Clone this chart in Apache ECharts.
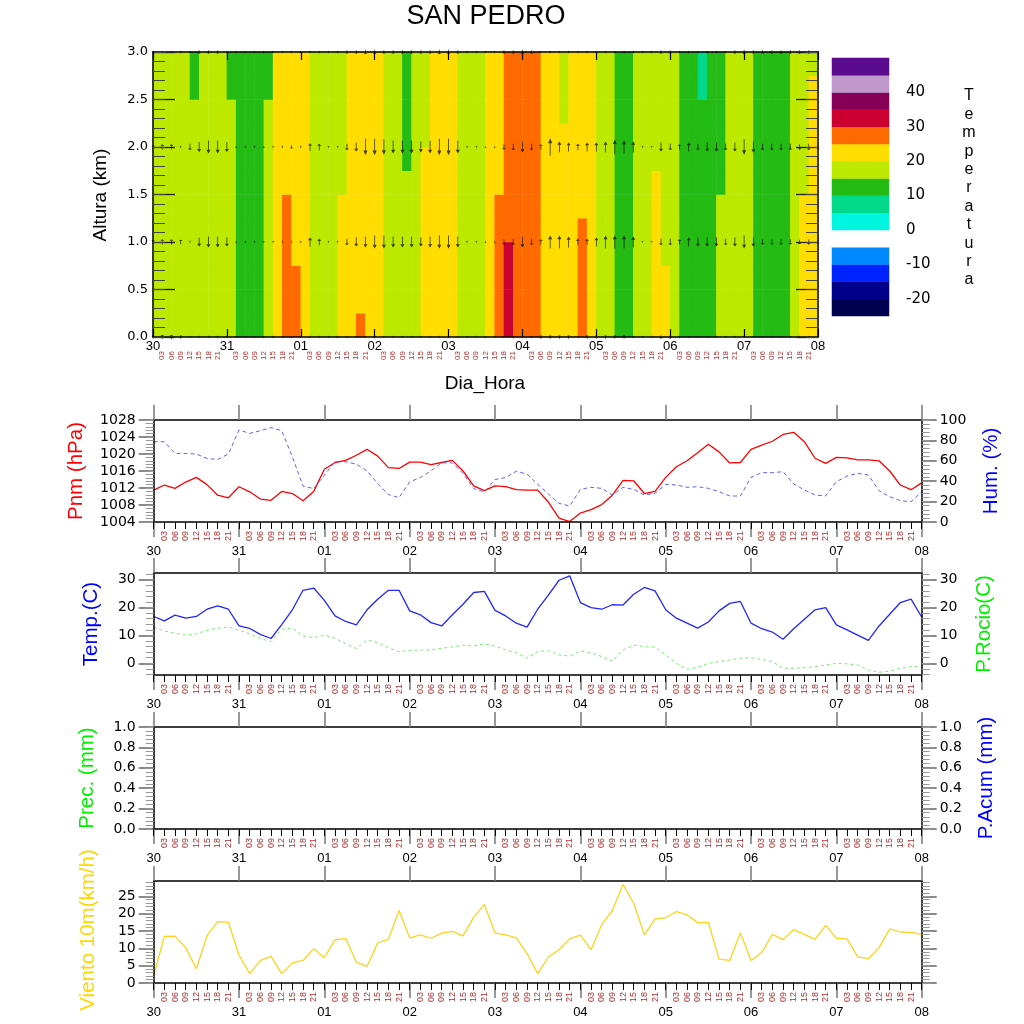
<!DOCTYPE html>
<html>
<head>
<meta charset="utf-8">
<script src="https://cdn.jsdelivr.net/npm/echarts@6/dist/echarts.min.js"></script>
<style>
html, body { margin: 0; padding: 0; background: #fff; }
#chart { width: 1024px; height: 1024px; }
</style>
</head>
<body>
<div id="chart"></div>
<script>
// ---- tick labels ----
var dayLabels = ['30', '31', '01', '02', '03', '04', '05', '06', '07', '08'];
var hourLabels = ['', '03', '06', '09', '12', '15', '18', '21'];

// ---- surface series, every 3 h from 30/00 to 08/00 (73 values) ----
var pressure = [1011.5,1012.7,1011.9,1013.4,1014.5,1012.8,1010.3,1009.7,1012.3,1011.1,
  1009.4,1009.1,1011.2,1010.7,1009.0,1011.2,1016.4,1018.0,1018.5,1019.7,
  1021.1,1019.5,1016.8,1016.6,1018.1,1018.1,1017.5,1018.0,1018.5,1016.0,
  1012.5,1011.4,1012.5,1012.3,1011.6,1011.5,1011.5,1008.7,1004.9,1004.1,
  1006.1,1006.9,1008.1,1010.3,1013.8,1013.7,1010.7,1011.2,1014.5,1017.0,
  1018.4,1020.3,1022.3,1020.5,1017.9,1018.0,1021.1,1022.1,1023.0,1024.6,
  1025.1,1022.9,1019.0,1017.8,1019.2,1019.1,1018.6,1018.6,1018.4,1016.0,
  1012.7,1011.6,1013.2];
var humidity = [78.7,78.7,67.2,67.2,66.6,62.3,61.3,66.6,90.2,86.9,
  89.5,92.5,89.5,63.9,35.1,32.8,45.9,59.0,59.0,56.7,
  50.2,37.7,26.9,23.9,39.3,43.6,50.2,58.0,58.0,47.5,
  32.8,29.5,41.6,43.6,49.8,46.9,37.0,27.5,18.3,15.7,
  32.0,34.0,33.0,26.5,34.0,32.0,26.5,28.1,36.9,36.3,
  34.0,34.6,33.0,29.7,25.5,25.5,43.8,48.4,48.4,49.3,
  37.3,31.4,26.5,25.5,39.5,45.1,47.7,46.1,30.7,24.8,
  20.9,19.9,29.7];
var temperature = [16.8,15.2,17.3,16.2,16.8,19.4,20.6,19.4,13.4,12.5,
  10.4,8.9,13.9,19.2,26.2,27.0,22.6,17.0,15.0,13.8,
  19.2,23.0,26.2,26.2,18.8,17.4,14.6,13.4,17.4,21.2,
  25.4,25.8,19.0,17.0,14.4,13.0,19.4,24.5,29.8,31.4,
  21.8,20.0,19.4,21.0,20.9,24.8,27.2,26.0,19.2,16.2,
  14.4,12.6,14.8,18.8,21.5,22.2,14.4,12.4,11.2,8.6,
  12.4,15.8,19.2,20.0,13.8,12.0,10.1,8.2,13.4,17.6,
  21.8,23.0,16.6];
var dewPoint = [13.0,11.6,10.8,10.1,10.6,11.8,12.6,13.0,11.8,10.6,
  8.9,7.8,12.2,12.6,9.8,9.2,10.1,9.0,7.0,5.3,
  8.4,7.4,5.6,4.2,4.6,4.8,4.8,5.4,5.9,6.5,
  6.2,7.0,6.2,4.8,3.8,1.8,4.3,4.5,3.0,2.6,
  4.4,3.8,2.4,0.8,4.8,6.5,6.0,5.8,3.0,0.0,
  -2.2,-1.4,0.0,0.6,1.2,1.8,2.0,1.4,0.6,-1.8,
  -1.8,-1.6,-1.2,-0.6,0.0,-0.2,-0.6,-2.4,-3.2,-2.8,
  -1.8,-1.2,-1.0];
var precip = [0,0,0,0,0,0,0,0,0,0,0,0,0,0,0,0,0,0,0,0,0,0,0,0,0,0,0,0,0,0,0,0,0,0,0,0,0,
  0,0,0,0,0,0,0,0,0,0,0,0,0,0,0,0,0,0,0,0,0,0,0,0,0,0,0,0,0,0,0,0,0,0,0,0];
var precipAcum = [0,0,0,0,0,0,0,0,0,0,0,0,0,0,0,0,0,0,0,0,0,0,0,0,0,0,0,0,0,0,0,0,0,0,0,0,0,
  0,0,0,0,0,0,0,0,0,0,0,0,0,0,0,0,0,0,0,0,0,0,0,0,0,0,0,0,0,0,0,0,0,0,0,0];
var wind10m = [2.2,13.4,13.5,10.2,4.1,13.7,17.7,17.5,8.0,2.7,
  6.5,7.7,2.7,5.8,6.5,9.9,7.3,12.5,12.8,6.0,
  4.8,11.6,12.6,20.9,13.0,13.9,12.9,14.4,14.9,13.6,
  19.0,22.6,14.4,13.9,13.0,8.5,2.7,7.5,9.6,12.8,
  13.8,9.6,16.8,20.9,28.4,23.0,13.9,18.5,18.8,20.6,
  19.7,17.4,17.5,6.9,6.5,14.5,6.5,8.8,14.0,12.5,
  15.4,14.0,12.6,16.6,12.9,12.7,7.5,7.0,10.2,15.6,
  14.7,14.6,14.0];

// ---- temperature aloft (C), 72 x 3h cells, rows of 0.25 km from the ground up ----
var tempRow0 = [17,17,17,17,17,17,17,17,17,12,12,12,17,22,27,27,22,17,17,17,22,22,27,22,22,17,17,17,17,22,22,22,22,17,17,17,22,27,32,27,27,27,22,22,22,22,27,22,17,17,12,12,17,17,22,22,17,12,12,12,12,17,17,17,17,12,12,12,12,17,22,22];
var tempRow1 = [17,17,17,17,17,17,17,17,17,12,12,12,17,22,27,27,22,17,17,17,22,22,22,22,22,17,17,17,17,22,22,22,22,17,17,17,22,27,32,27,27,27,22,22,22,22,27,22,17,17,12,12,17,17,22,22,17,12,12,12,12,17,17,17,17,12,12,12,12,17,22,22];
var tempRow2 = [17,17,17,17,17,17,17,17,17,12,12,12,17,22,27,27,22,17,17,17,22,22,22,22,22,17,17,17,17,22,22,22,22,17,17,17,22,27,32,27,27,27,22,22,22,22,27,22,17,17,12,12,17,17,22,22,17,12,12,12,12,17,17,17,17,12,12,12,12,17,22,22];
var tempRow3 = [17,17,17,17,17,17,17,17,17,12,12,12,17,22,27,22,22,17,17,17,22,22,22,22,22,17,17,17,17,22,22,22,22,17,17,17,22,27,32,27,27,27,22,22,22,22,27,22,17,17,12,12,17,17,22,17,17,12,12,12,12,17,17,17,17,12,12,12,12,17,22,22];
var tempRow4 = [17,17,17,17,17,17,17,17,17,12,12,12,17,22,27,22,22,17,17,17,22,22,22,22,22,17,17,17,17,22,22,22,22,17,17,17,22,27,27,27,27,27,22,22,22,22,27,22,17,17,12,12,17,17,22,17,17,12,12,12,12,17,17,17,17,12,12,12,12,17,22,22];
var tempRow5 = [17,17,17,17,17,17,17,17,17,12,12,12,17,22,27,22,22,17,17,17,22,22,22,22,22,17,17,17,17,22,22,22,22,17,17,17,22,27,27,27,27,27,22,22,22,22,22,22,17,17,12,12,17,17,22,17,17,12,12,12,12,17,17,17,17,12,12,12,12,17,22,22];
var tempRow6 = [17,17,17,17,17,17,17,17,17,12,12,12,17,22,22,22,22,17,17,17,17,22,22,22,22,17,17,17,17,22,22,22,22,17,17,17,22,22,27,27,27,27,22,22,22,22,22,22,17,17,12,12,17,17,22,17,17,12,12,12,12,12,17,17,17,12,12,12,12,17,17,22];
var tempRow7 = [17,17,17,17,17,17,17,17,17,12,12,12,17,22,22,22,22,17,17,17,17,22,22,22,22,17,17,12,17,22,22,22,22,17,17,17,22,22,27,27,27,27,22,22,22,22,22,22,17,17,12,12,17,17,17,17,17,12,12,12,12,12,17,17,17,12,12,12,12,17,17,22];
var tempRow8 = [17,17,17,17,17,17,17,17,17,12,12,12,17,22,22,22,22,17,17,17,17,22,22,22,22,17,17,12,17,17,22,22,22,17,17,17,22,22,27,27,27,27,22,22,22,22,22,22,17,17,12,12,17,17,17,17,17,12,12,12,12,12,17,17,17,12,12,12,12,17,17,22];
var tempRow9 = [17,17,17,17,17,17,17,17,17,12,12,12,17,22,22,22,22,17,17,17,17,22,22,22,22,17,17,12,17,17,22,22,22,17,17,17,22,22,27,27,27,27,22,22,17,22,22,22,17,17,12,12,17,17,17,17,17,12,12,12,12,12,17,17,17,12,12,12,12,17,17,22];
var tempRow10 = [17,17,17,17,12,17,17,17,12,12,12,12,12,22,22,22,22,17,17,17,17,22,22,22,22,17,17,12,17,17,22,22,22,17,17,17,22,22,27,27,27,27,22,22,17,22,22,22,17,17,12,12,17,17,17,17,17,12,12,7,12,12,17,17,17,12,12,12,12,17,17,22];
var tempRow11 = [17,17,17,17,12,17,17,17,12,12,12,12,12,22,22,22,22,17,17,17,17,22,22,22,22,17,17,12,17,17,22,22,22,17,17,17,22,22,27,27,27,27,22,22,17,22,22,22,17,17,12,12,17,17,17,17,17,12,12,7,12,12,17,17,17,12,12,12,12,17,17,17];
var tempAloft = [tempRow0, tempRow1, tempRow2, tempRow3, tempRow4, tempRow5,
  tempRow6, tempRow7, tempRow8, tempRow9, tempRow10, tempRow11];

// ---- wind aloft: signed north component (+ up, - down) at 0, 1, 2, 3 km ----
var windLevels = [0, 1, 2, 3];
var windV0 = [3,4,4,3,0.5,0.5,0.5,0.5,0.5,0.5, 0.5,0.5,0.5,0.5,0.5,0.5,0.5,0.5,0.5,0.5,
  0.5,0.5,0.5,0.5,0.5,0.5,0.5,0.5,0.5,0.5, 0.5,0.5,0.5,0.5,0.5,0.5,0.5,0.5,0.5,0.5,
  0.5,0.5,3,3,3,3,2,3,3,3, 3,3,2,0.5,0.5,-3,-3,0.5,0.5,0.5,
  0.5,0.5,0.5,0.5,0.5,0.5,0.5,0.5,0.5,0.5, 0.5,0.5,0.5];
var windV1 = [4,5,5,4,0.5,-8,-10,-10,-8,-1.5, 0.5,0.5,0.5,0.5,0.5,0.5,1.5,8,6,0.5,
  0.5,-6,-8,-10,-12,-12,-10,-10,-10,-8, -10,-12,-12,-10,0.5,0.5,-1,-1,-5,-6,
  -10,-6,5,12,12,10,6,6,8,12, 12,12,10,0.5,0.5,-6,-6,5,8,-8,
  -8,-8,-6,-8,-12,-8,-5,-5,-5,-5, -4,-5,-3];
var windV2 = [3,5,5,0.5,-6,-9,-12,-12,-9,-2, 0.5,2,-2,0.5,0.5,-3,0.5,7,6,0.5,
  0.5,-6,-8,-15,-15,-14,-12,-12,-12,-10, -12,-15,-15,-12,0.5,0.5,-1,-1,-5,-6,
  -10,-6,5,16,10,8,6,8,8,10, 13,12,10,0.5,0.5,-8,-6,5,8,-6,
  -8,-8,-6,-8,-14,-10,-6,-6,-6,-6, -5,-6,-3];
var windV3 = [0.5,0.5,0.5,0.5,0.5,-3,-3,-3,-2,0.5, 0.5,0.5,0.5,0.5,0.5,0.5,0.5,0.5,0.5,0.5,
  0.5,-3,-3,-4,-4,-3,-3,-3,-3,-3, -3,-4,-4,-3,0.5,0.5,0.5,0.5,-3,-3,
  -4,-3,0.5,0.5,0.5,0.5,0.5,0.5,0.5,0.5, 0.5,0.5,0.5,0.5,0.5,-3,-3,0.5,0.5,-2,
  -2,-2,-2,-3,-4,-3,-3,-3,-3,-3, -3,-3,0.5];
var windAloft = [windV0, windV1, windV2, windV3];

// ---- colour bar levels (C) ----
var levelMids = [-22.5,-17.5,-12.5,-7.5,-2.5,2.5,7.5,12.5,17.5,22.5,27.5,32.5,37.5,42.5,47.5];
var levelLabels = [-20, -10, 0, 10, 20, 30, 40];

var FONT_TXT = 'Liberation Sans';
var FONT_NUM = 'DejaVu Sans';
var ARROW = 'path://M5,0 L10,7 L6,7 L6,24 L4,24 L4,7 L0,7 Z';

function steps(a, b, d) {
  var out = [];
  for (var i = 0; a + i * d <= b + 1e-9; i++) out.push(+(a + i * d).toFixed(4));
  return out;
}
var dayTicks = steps(0, 72, 8);
var hourTicks = steps(0, 72, 1).filter(function (v) { return v % 8 !== 0; });

var xAxes = [], yAxes = [], grids = [];
function fixAxis(o) {
  o.z = 5;
  o.splitLine = { show: false };
  o.axisLine = o.axisLine || {};
  o.axisLine.onZero = false;
  if (o.axisTick && o.axisTick.inside === undefined) o.axisTick.inside = false;
  return o;
}
function addX(o) { xAxes.push(fixAxis(o)); return xAxes.length - 1; }
function addY(o) { yAxes.push(fixAxis(o)); return yAxes.length - 1; }
function addGrid(r) {
  grids.push({ left: r[0], top: r[1], width: r[2], height: r[3], containLabel: false, outerBoundsMode: 'none' });
  return grids.length - 1;
}

// ---- top panel: heatmap + arrows ----
var gHeat = addGrid([153, 52, 665, 285]);
var gTop = addGrid([153, 52, 665, 285]);
var gBar = addGrid([832, 58, 57, 258]);

var heatX = addX({ gridIndex: gHeat, type: 'category', show: false, data: steps(0, 71, 1).map(String) });
var heatY = addY({ gridIndex: gHeat, type: 'category', show: false, data: steps(0, 11, 1).map(String) });

var topX = addX({ gridIndex: gTop, type: 'value', min: 0, max: 72, position: 'bottom',
  axisLine: { lineStyle: { color: '#000', width: 1.5 } },
  axisTick: { customValues: dayTicks, inside: true, length: 8, lineStyle: { color: '#000', width: 1.2 } },
  axisLabel: { customValues: dayTicks, margin: 3, fontSize: 13, fontFamily: FONT_TXT, color: '#000',
    formatter: function (v) { return dayLabels[v / 8]; } } });
addX({ gridIndex: gTop, type: 'value', min: 0, max: 72, position: 'bottom',
  axisLine: { show: false }, axisTick: { show: false },
  axisLabel: { customValues: hourTicks, rotate: 90, margin: 14, fontSize: 8, fontFamily: FONT_TXT, color: '#b03030',
    formatter: function (v) { return hourLabels[v % 8]; } } });
addX({ gridIndex: gTop, type: 'value', min: 0, max: 72, position: 'top',
  axisLine: { lineStyle: { color: '#000', width: 1.5 } },
  axisTick: { customValues: dayTicks, inside: true, length: 8, lineStyle: { color: '#000', width: 1.2 } },
  axisLabel: { show: false } });
var topY = addY({ gridIndex: gTop, type: 'value', min: 0, max: 3, position: 'left',
  axisLine: { lineStyle: { color: '#000', width: 1.5 } },
  axisTick: { customValues: steps(0, 3, 0.5), inside: true, length: 22, lineStyle: { color: '#222', width: 1.3 } },
  axisLabel: { customValues: steps(0, 3, 0.5), margin: 5, fontSize: 13, fontFamily: FONT_NUM, color: '#000',
    formatter: function (v) { return v.toFixed(1); } } });
addY({ gridIndex: gTop, type: 'value', min: 0, max: 3, position: 'left', axisLine: { show: false },
  axisTick: { customValues: steps(0, 3, 0.1), inside: true, length: 12, lineStyle: { color: '#444' } },
  axisLabel: { show: false } });
addY({ gridIndex: gTop, type: 'value', min: 0, max: 3, position: 'right',
  axisLine: { lineStyle: { color: '#000', width: 1.5 } },
  axisTick: { customValues: steps(0, 3, 0.5), inside: true, length: 22, lineStyle: { color: '#222', width: 1.3 } },
  axisLabel: { show: false } });
addY({ gridIndex: gTop, type: 'value', min: 0, max: 3, position: 'right', axisLine: { show: false },
  axisTick: { customValues: steps(0, 3, 0.1), inside: true, length: 12, lineStyle: { color: '#444' } },
  axisLabel: { show: false } });

// colour bar
var barX = addX({ gridIndex: gBar, type: 'category', show: false, data: ['c'] });
var barY = addY({ gridIndex: gBar, type: 'category', show: false, data: levelMids.map(String) });
addY({ gridIndex: gBar, type: 'value', min: -25, max: 50, position: 'right',
  axisLine: { show: false }, axisTick: { show: false },
  axisLabel: { customValues: levelLabels, margin: 17, fontSize: 15, fontFamily: FONT_NUM, color: '#000' } });

// ---- lower panels ----
function panel(top, left, right) {
  var g = addGrid([153.7, top, 768, 102]);
  var x = addX({ gridIndex: g, type: 'value', min: 0, max: 72, position: 'bottom',
    axisLine: { lineStyle: { color: '#000', width: 1.5 } },
    axisTick: { customValues: dayTicks, length: 15, lineStyle: { color: '#777', width: 1.5 } },
    axisLabel: { customValues: dayTicks, margin: 23, fontSize: 13, fontFamily: FONT_TXT, color: '#000',
      formatter: function (v) { return dayLabels[v / 8]; } } });
  addX({ gridIndex: g, type: 'value', min: 0, max: 72, position: 'bottom', axisLine: { show: false },
    axisTick: { customValues: steps(0, 72, 1), length: 7, lineStyle: { color: '#000' } },
    axisLabel: { customValues: hourTicks, rotate: 90, margin: 9, fontSize: 9, fontFamily: FONT_TXT, color: '#b03030',
      formatter: function (v) { return hourLabels[v % 8]; } } });
  addX({ gridIndex: g, type: 'value', min: 0, max: 72, position: 'top',
    axisLine: { lineStyle: { color: '#000', width: 1.5 } },
    axisTick: { customValues: dayTicks, length: 15, lineStyle: { color: '#777', width: 1.5 } },
    axisLabel: { show: false } });
  var ys = [];
  [['left', left], ['right', right]].forEach(function (s) {
    var a = s[1];
    ys.push(addY({ gridIndex: g, type: 'value', position: s[0], min: a.min, max: a.max,
      axisLine: { lineStyle: { color: '#000', width: 1.5 } },
      axisTick: { customValues: a.major, length: 15, lineStyle: { color: '#666', width: 1.5 } },
      axisLabel: { show: a.labels, customValues: a.major, margin: 18, fontSize: 14, fontFamily: FONT_NUM, color: '#000',
        formatter: a.fmt || function (v) { return String(v); } } }));
    addY({ gridIndex: g, type: 'value', position: s[0], min: a.min, max: a.max, axisLine: { show: false },
      axisTick: { customValues: a.minor, length: 8, lineStyle: { color: '#999' } },
      axisLabel: { show: false } });
  });
  return { x: x, yl: ys[0], yr: ys[1] };
}

var pPres = panel(420,
  { min: 1004, max: 1028, major: steps(1004, 1028, 4), minor: steps(1004, 1028, 0.8), labels: true },
  { min: 0, max: 100, major: steps(0, 100, 20), minor: steps(0, 100, 4), labels: true });
var pTemp = panel(573,
  { min: -4.2, max: 32.4, major: [0, 10, 20, 30], minor: steps(-4, 32, 2), labels: true },
  { min: -4.2, max: 32.4, major: [0, 10, 20, 30], minor: steps(-4, 32, 2), labels: true });
var fmt1 = function (v) { return v.toFixed(1); };
var pPrec = panel(727,
  { min: 0, max: 1, major: steps(0, 1, 0.2), minor: steps(0, 1, 0.04), labels: true, fmt: fmt1 },
  { min: 0, max: 1, major: steps(0, 1, 0.2), minor: steps(0, 1, 0.04), labels: true, fmt: fmt1 });
var pWind = panel(881,
  { min: 0, max: 29.4, major: steps(0, 25, 5), minor: steps(0, 29, 1), labels: true },
  { min: 0, max: 29.4, major: steps(0, 25, 5), minor: steps(0, 29, 1), labels: false });

// ---- series data ----
var heatData = [];
tempAloft.forEach(function (row, r) {
  row.forEach(function (v, c) { heatData.push([c, r, v]); });
});
var arrowData = [];
windLevels.forEach(function (lev, k) {
  windAloft[k].forEach(function (v, i) { arrowData.push([i, lev, v]); });
});
function pairs(arr) { return arr.map(function (v, i) { return [i, v]; }); }

function lineSeries(p, yIdx, data, color, width, dash) {
  return { type: 'line', xAxisIndex: p.x, yAxisIndex: yIdx, data: pairs(data), symbol: 'none',
    silent: true, lineStyle: { color: color, width: width, type: dash || 'solid' }, z: 3 };
}

function vText(txt, x, y, color, size) {
  return { type: 'text', x: x, y: y, rotation: Math.PI / 2, z: 20,
    style: { text: txt, fill: color, font: size + 'px "' + FONT_TXT + '"', align: 'center', verticalAlign: 'middle' } };
}

var chart = echarts.init(document.getElementById('chart'));
chart.setOption({
  backgroundColor: '#fff',
  animation: false,
  textStyle: { fontFamily: FONT_TXT },
  grid: grids,
  xAxis: xAxes,
  yAxis: yAxes,
  visualMap: {
    type: 'piecewise', show: false, dimension: 2, seriesIndex: [0, 1],
    pieces: [
      { lt: -20, color: '#000050' },
      { gte: -20, lt: -15, color: '#00008a' },
      { gte: -15, lt: -10, color: '#0022ff' },
      { gte: -10, lt: -5, color: '#0088ff' },
      { gte: -5, lt: 0, color: '#ffffff' },
      { gte: 0, lt: 5, color: '#00f5e0' },
      { gte: 5, lt: 10, color: '#00d98a' },
      { gte: 10, lt: 15, color: '#24bb14' },
      { gte: 15, lt: 20, color: '#bde800' },
      { gte: 20, lt: 25, color: '#ffdd00' },
      { gte: 25, lt: 30, color: '#ff6a00' },
      { gte: 30, lt: 35, color: '#cc0030' },
      { gte: 35, lt: 40, color: '#860058' },
      { gte: 40, lt: 45, color: '#c098cc' },
      { gte: 45, color: '#5a0a8c' }
    ]
  },
  series: [
    { type: 'heatmap', xAxisIndex: heatX, yAxisIndex: heatY, data: heatData, silent: true, z: 1 },
    { type: 'heatmap', xAxisIndex: barX, yAxisIndex: barY, silent: true, z: 1,
      data: levelMids.map(function (v, i) { return [0, i, v]; }) },
    { type: 'scatter', xAxisIndex: topX, yAxisIndex: topY, data: arrowData, silent: true, z: 4,
      symbol: ARROW,
      symbolSize: function (val) {
        var s = Math.abs(val[2]);
        return s < 3 ? [2.5, 2.5] : [4, s * 1.1];
      },
      symbolRotate: function (val) { return val[2] < 0 ? 180 : 0; },
      itemStyle: { color: '#111' } },
    lineSeries(pPres, pPres.yl, pressure, '#ff0000', 1.3),
    lineSeries(pPres, pPres.yr, humidity, '#6060ff', 1, [4, 3]),
    lineSeries(pTemp, pTemp.yl, temperature, '#2424ff', 1.3),
    lineSeries(pTemp, pTemp.yr, dewPoint, '#70f070', 1, [3, 3]),
    { type: 'bar', xAxisIndex: pPrec.x, yAxisIndex: pPrec.yl, data: pairs(precip), barWidth: 6,
      itemStyle: { color: '#00ff00' }, silent: true },
    lineSeries(pPrec, pPrec.yr, precipAcum, '#9090ff', 1, [3, 3]),
    lineSeries(pWind, pWind.yl, wind10m, '#ffd21f', 1.3)
  ],
  graphic: [
    { type: 'text', x: 486, y: 17, z: 20,
      style: { text: 'SAN PEDRO', fill: '#000', font: '27px "' + FONT_TXT + '"', align: 'center', verticalAlign: 'middle' } },
    { type: 'text', x: 485, y: 384, z: 20,
      style: { text: 'Dia_Hora', fill: '#000', font: '19px "' + FONT_TXT + '"', align: 'center', verticalAlign: 'middle' } },
    { type: 'text', x: 969, y: 188, z: 20,
      style: { text: 'Temperatura'.split('').join('\n'), fill: '#000', font: '16px "' + FONT_TXT + '"',
        lineHeight: 18.4, align: 'center', verticalAlign: 'middle' } },
    vText('Altura (km)', 101, 195, '#000', 19),
    vText('Pnm (hPa)', 76, 471, '#ff0000', 20.5),
    vText('Hum. (%)', 991, 471, '#0000ff', 20.5),
    vText('Temp.(C)', 91, 624, '#0000ff', 20.5),
    vText('P.Rocio(C)', 984, 624, '#00ee00', 20.5),
    vText('Prec. (mm)', 87, 778, '#00ee00', 20.5),
    vText('P.Acum (mm)', 986, 778, '#0000ff', 20.5),
    vText('Viento 10m(km/h)', 88, 930, '#ffd700', 20.5)
  ]
});
</script>
</body>
</html>
